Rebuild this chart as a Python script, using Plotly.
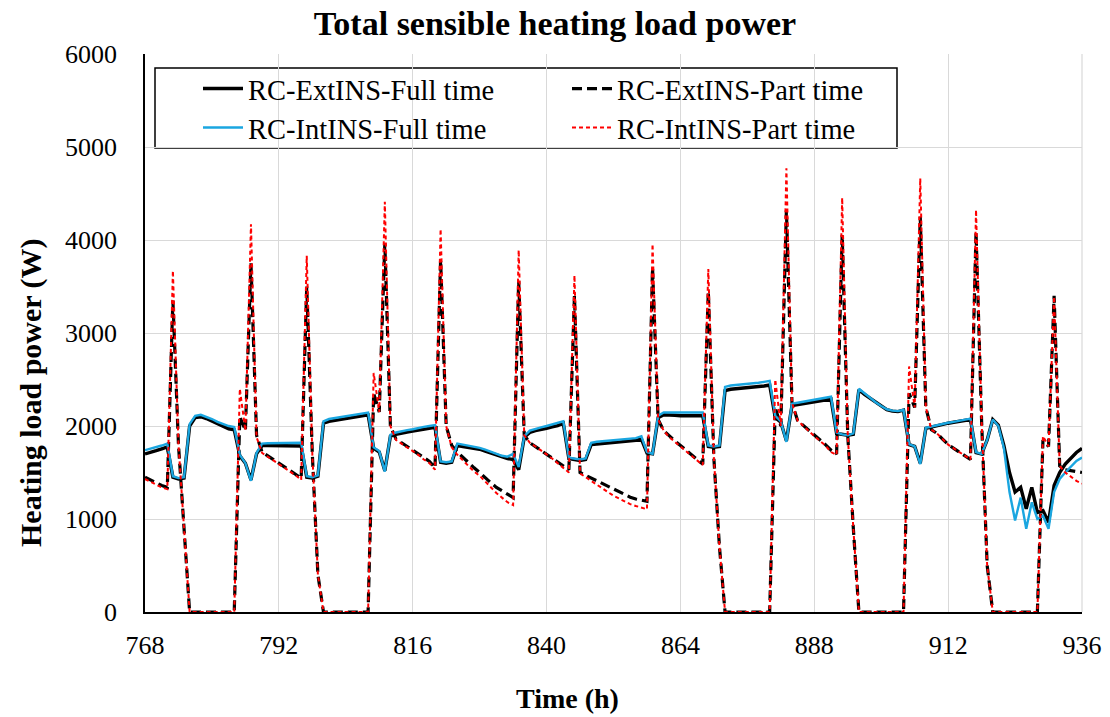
import plotly.graph_objects as go

hours = list(range(768, 937))

ext_full = [
    1700, 1715, 1735, 1755, 1775, 1450, 1430, 1440, 2000, 2090, 2100, 2080, 2050, 2020, 1990, 1970, 1960, 1680, 1600, 1420, 1700, 1790, 1790, 1790,
    1785, 1785, 1785, 1785, 1785, 1450, 1440, 1460, 2030, 2050, 2060, 2070, 2080, 2090, 2100, 2110, 2120, 1760, 1720, 1520, 1890, 1910, 1925, 1935,
    1945, 1955, 1965, 1975, 1985, 1610, 1600, 1610, 1790, 1780, 1770, 1760, 1750, 1730, 1710, 1690, 1665, 1650, 1640, 1530, 1880, 1930, 1950, 1960,
    1975, 1990, 2005, 2030, 1650, 1640, 1630, 1640, 1800, 1805, 1810, 1815, 1820, 1825, 1830, 1835, 1845, 1860, 1710, 1700, 2090, 2120, 2120, 2115,
    2110, 2110, 2110, 2110, 2110, 1780, 1770, 1780, 2380, 2395, 2400, 2405, 2410, 2415, 2420, 2430, 2440, 2090, 2040, 1840, 2220, 2230, 2240, 2250,
    2260, 2270, 2280, 2290, 1920, 1910, 1900, 1910, 2390, 2340, 2300, 2250, 2210, 2175, 2160, 2155, 2170, 1800, 1780, 1600, 1975, 1990, 2000, 2015,
    2030, 2040, 2050, 2060, 2070, 1715, 1700, 1850, 2070, 2010, 1790, 1500, 1290, 1340, 1110, 1340, 1070, 1090, 965, 1360, 1500, 1590, 1650, 1715,
    1760,
]

ext_part = [
    1450, 1420, 1390, 1360, 1340, 3350, 1800, 900, 0, 0, 0, 0, 0, 0, 0, 0, 0, 2100, 1950, 3750, 1900, 1720, 1680, 1640,
    1600, 1560, 1520, 1480, 1440, 3500, 1700, 400, 0, 0, 0, 0, 0, 0, 0, 0, 0, 2350, 2150, 3965, 2000, 1860, 1820, 1780,
    1740, 1700, 1660, 1620, 1550, 3785, 2000, 1790, 1720, 1660, 1600, 1550, 1500, 1440, 1390, 1340, 1300, 1260, 1230, 3560, 1900, 1820, 1780, 1740,
    1700, 1660, 1620, 1570, 1530, 3400, 1500, 1470, 1440, 1410, 1380, 1350, 1320, 1290, 1260, 1235, 1215, 1200, 1190, 3700, 2070, 1950, 1890, 1840,
    1790, 1740, 1690, 1640, 1590, 3450, 1650, 700, 0, 0, 0, 0, 0, 0, 0, 0, 0, 2200, 2000, 4320, 2250, 2060, 2010, 1960,
    1900, 1850, 1800, 1740, 1700, 4054, 1900, 900, 0, 0, 0, 0, 0, 0, 0, 0, 0, 2350, 2200, 4247, 2200, 1960, 1920, 1860,
    1800, 1760, 1720, 1680, 1640, 4086, 2050, 500, 0, 0, 0, 0, 0, 0, 0, 0, 0, 1850, 1780, 3400, 1570, 1530, 1520, 1510,
    1500,
]

int_full = [
    1740, 1755, 1770, 1790, 1810, 1460, 1440, 1450, 2020, 2110, 2120, 2100, 2075, 2045, 2020, 2000, 1990, 1690, 1600, 1410, 1710, 1810, 1815, 1815,
    1815, 1815, 1815, 1820, 1820, 1460, 1450, 1470, 2050, 2075, 2085, 2095, 2105, 2115, 2125, 2135, 2145, 1770, 1730, 1510, 1905, 1930, 1945, 1955,
    1965, 1980, 1990, 2000, 2010, 1620, 1610, 1620, 1810, 1800, 1790, 1775, 1765, 1745, 1725, 1700, 1680, 1670, 1700, 1560, 1890, 1950, 1970, 1985,
    2000, 2015, 2030, 2050, 1660, 1650, 1640, 1650, 1820, 1830, 1835, 1840, 1845, 1850, 1855, 1860, 1870, 1890, 1720, 1700, 2110, 2145, 2145, 2140,
    2140, 2140, 2140, 2140, 2145, 1790, 1780, 1790, 2420, 2435, 2440, 2445, 2450, 2455, 2465, 2475, 2485, 2110, 2050, 1830, 2240, 2250, 2260, 2270,
    2280, 2290, 2300, 2315, 1930, 1910, 1900, 1920, 2400, 2350, 2305, 2255, 2215, 2180, 2165, 2160, 2175, 1805, 1780, 1590, 1980, 1995, 2005, 2020,
    2035, 2045, 2055, 2065, 2080, 1720, 1700, 1850, 2070, 2000, 1760, 1290, 985, 1230, 895, 1180, 1000, 1035, 895, 1290, 1430, 1500, 1560, 1625,
    1660,
]

int_part = [
    1430, 1400, 1370, 1340, 1320, 3670, 1800, 900, 0, 0, 0, 0, 0, 0, 0, 0, 0, 2400, 1950, 4170, 1880, 1710, 1670, 1630,
    1590, 1550, 1510, 1470, 1420, 3830, 1700, 400, 0, 0, 0, 0, 0, 0, 0, 0, 0, 2570, 2150, 4410, 2000, 1850, 1810, 1770,
    1730, 1690, 1640, 1600, 1530, 4118, 2000, 1770, 1690, 1630, 1570, 1510, 1465, 1400, 1340, 1280, 1230, 1180, 1150, 3892, 1900, 1820, 1780, 1740,
    1695, 1650, 1600, 1550, 1500, 3620, 1490, 1450, 1410, 1370, 1330, 1290, 1250, 1220, 1190, 1160, 1140, 1120, 1105, 3957, 2070, 1950, 1880, 1830,
    1780, 1730, 1680, 1630, 1580, 3688, 1650, 700, 0, 0, 0, 0, 0, 0, 0, 0, 0, 2500, 2000, 4770, 2250, 2060, 2000, 1950,
    1890, 1840, 1790, 1720, 1690, 4455, 1900, 900, 0, 0, 0, 0, 0, 0, 0, 0, 0, 2640, 2200, 4663, 2200, 1960, 1920, 1860,
    1800, 1760, 1720, 1680, 1640, 4323, 2050, 500, 0, 0, 0, 0, 0, 0, 0, 0, 0, 1890, 1780, 3390, 1570, 1500, 1450, 1410,
    1380,
]

x_ticks = [768, 792, 816, 840, 864, 888, 912, 936]
y_ticks = [0, 1000, 2000, 3000, 4000, 5000, 6000]

FONT = "Liberation Serif"

fig = go.Figure()
fig.add_trace(go.Scatter(x=hours, y=ext_full, mode="lines", name="RC-ExtINS-Full time",
                         line=dict(color="black", width=3.4), legend="legend"))
fig.add_trace(go.Scatter(x=hours, y=ext_part, mode="lines", name="RC-ExtINS-Part time",
                         line=dict(color="black", width=3.2, dash="10px,5px"), legend="legend"))
fig.add_trace(go.Scatter(x=hours, y=int_full, mode="lines", name="RC-IntINS-Full time",
                         line=dict(color="#1AA6E0", width=2.4), legend="legend2"))
fig.add_trace(go.Scatter(x=hours, y=int_part, mode="lines", name="RC-IntINS-Part time",
                         line=dict(color="#FF0000", width=2, dash="4px,3px"), legend="legend2"))

L, R, T, B = 145, 28, 54, 105
W, H = 1110, 717
pw, ph = W - L - R, H - T - B


def px(xp):
    return (xp - L) / pw


def py(yp):
    return (H - B - yp) / ph


legend_common = dict(orientation="h", entrywidth=314, entrywidthmode="pixels",
                     font=dict(family=FONT, size=28.5, color="black"),
                     bgcolor="rgba(0,0,0,0)", borderwidth=0,
                     xanchor="left", yanchor="middle", itemwidth=40)

fig.update_layout(
    width=W, height=H,
    margin=dict(l=L, r=R, t=T, b=B, autoexpand=False),
    paper_bgcolor="white", plot_bgcolor="white",
    font=dict(family=FONT, size=26, color="black"),
    title=dict(text="<b>Total sensible heating load power</b>", x=0.5, xanchor="center",
               y=1 - 23 / H, yanchor="middle", font=dict(family=FONT, size=34, color="black")),
    xaxis=dict(range=[768, 936], tickvals=x_ticks, ticktext=[str(v) for v in x_ticks],
               showgrid=True, gridcolor="#D9D9D9", gridwidth=1.2,
               showline=True, linecolor="black", linewidth=1.5, zeroline=False,
               ticks="", ticklabelstandoff=9,
               tickfont=dict(family=FONT, size=26, color="black")),
    yaxis=dict(range=[0, 6000], tickvals=y_ticks, ticktext=[str(v) for v in y_ticks],
               showgrid=True, gridcolor="#D9D9D9", gridwidth=1.2,
               showline=True, linecolor="black", linewidth=1.5, zeroline=False,
               ticks="", ticklabelstandoff=21,
               tickfont=dict(family=FONT, size=26, color="black")),
    legend=dict(x=px(198), y=py(89), **legend_common),
    legend2=dict(x=px(198), y=py(128), **legend_common),
    annotations=[
        dict(text="<b>Time (h)</b>", xref="paper", yref="paper", x=px(567), y=py(698),
             xanchor="center", yanchor="middle", showarrow=False,
             font=dict(family=FONT, size=28, color="black")),
        dict(text="<b>Heating load power (W)</b>", xref="paper", yref="paper", x=px(31), y=py(393),
             xanchor="center", yanchor="middle", showarrow=False, textangle=-90,
             font=dict(family=FONT, size=30, color="black")),
    ],
    shapes=[dict(type="rect", xref="paper", yref="paper",
                 x0=px(155), x1=px(897), y0=py(148), y1=py(68),
                 fillcolor="white", line=dict(color="black", width=1.5), layer="between"),
            dict(type="line", xref="paper", yref="paper", x0=1, x1=1, y0=0, y1=1,
                 line=dict(color="#D9D9D9", width=1.2), layer="between")],
)

fig.write_html("out.html", config={"displayModeBar": False},
               post_script="document.body.style.margin='0';document.body.style.overflow='hidden';")
